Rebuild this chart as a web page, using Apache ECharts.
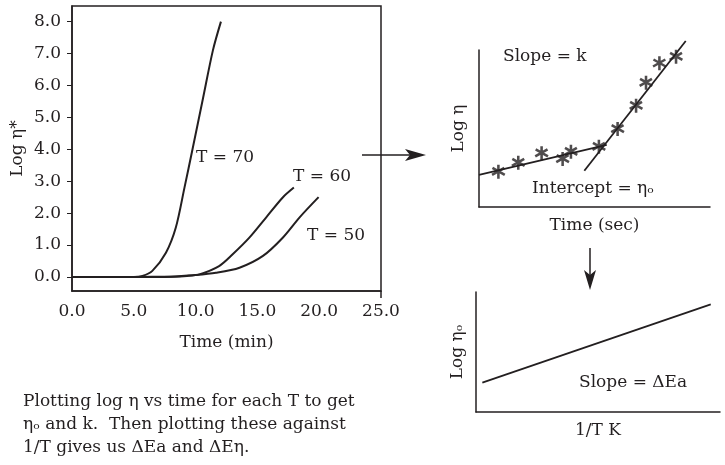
<!DOCTYPE html>
<html>
<head>
<meta charset="utf-8">
<script src="https://cdn.jsdelivr.net/npm/echarts@6/dist/echarts.min.js"></script>
<style>
  html, body { margin: 0; padding: 0; background: #fff; }
  #chart { width: 725px; height: 465px; }
</style>
</head>
<body>
<div id="chart"></div>
<script>
// main panel: log viscosity vs time, one curve per temperature
const tempNames = ['T = 70', 'T = 60', 'T = 50']
const curveT70 = [[0, 0], [3, 0], [5, 0], [5.7, 0.03], [6.5, 0.19], [7.6, 0.76], [8.4, 1.55], [9.1, 2.8], [9.75, 4.0], [10.6, 5.6], [11.4, 7.1], [12.05, 8.0]]
const curveT60 = [[0, 0], [5, 0], [8, 0.01], [9.3, 0.03], [10.3, 0.08], [11.9, 0.34], [13.0, 0.71], [14.35, 1.23], [15.7, 1.86], [17.05, 2.49], [17.95, 2.8]]
const curveT50 = [[0, 0], [5, 0], [8, 0.01], [10, 0.06], [11.65, 0.13], [13.55, 0.29], [15.45, 0.66], [17.05, 1.23], [18.4, 1.86], [19.95, 2.5]]
const yTicks = [0, 1, 2, 3, 4, 5, 6, 7, 8]

// top-right sketch: log eta vs time (arbitrary units 0..10)
const sketchPoints = [[0.84, 2.25], [1.70, 2.82], [2.71, 3.42], [3.62, 3.06], [3.98, 3.52], [5.19, 3.84], [6.00, 4.97], [6.80, 6.45], [7.23, 7.92], [7.81, 9.15], [8.53, 9.57]]
const fitSlow = [[0, 2.04], [5.53, 3.95]]
const fitFast = [[4.56, 2.31], [8.95, 10.57]]

// bottom-right sketch: log eta_o vs 1/T
const arrheniusLine = [[0.26, 2.44], [9.62, 8.97]]

const ink = '#231f20'
const serif = 'DejaVu Serif'
const font = '17px "DejaVu Serif"'
const asterisk = 'path://M4.1 0L5.9 0L5.9 10L4.1 10Z M1.27 1.46L9.93 6.46L9.03 8.02L0.37 3.02Z M0.07 6.46L8.73 1.46L9.63 3.02L0.97 8.02Z'

const chart = echarts.init(document.getElementById('chart'))

const bareAxis = {
  min: 0,
  max: 10,
  axisLine: { show: true, onZero: false, lineStyle: { color: ink, width: 1.5 } },
  axisTick: { show: false },
  axisLabel: { show: false },
  splitLine: { show: false },
  nameLocation: 'middle',
  nameTextStyle: { fontFamily: serif, fontSize: 17, color: ink }
}

chart.setOption({
  animation: false,
  backgroundColor: '#fff',
  grid: [
    { left: 72, top: 6, width: 309, height: 285, show: true, borderColor: ink, borderWidth: 1.5 },
    { left: 479, top: 50, width: 231, height: 157 },
    { left: 476, top: 292, width: 244, height: 120 }
  ],
  xAxis: [
    {
      gridIndex: 0,
      type: 'value',
      min: 0,
      max: 25,
      interval: 5,
      name: 'Time (min)',
      nameLocation: 'middle',
      nameGap: 43,
      nameTextStyle: { fontFamily: serif, fontSize: 17, color: ink },
      axisLine: { onZero: false, lineStyle: { color: ink, width: 1.5 } },
      axisTick: { show: true, customValues: [25], length: 7, lineStyle: { color: ink, width: 1.5 } },
      axisLabel: { fontFamily: serif, fontSize: 17, color: ink, margin: 12, formatter: v => v.toFixed(1) },
      splitLine: { show: false }
    },
    Object.assign({}, bareAxis, { gridIndex: 1, name: 'Time (sec)', nameGap: 10 }),
    Object.assign({}, bareAxis, { gridIndex: 2, name: '1/T K', nameGap: 10 })
  ],
  yAxis: [
    {
      gridIndex: 0,
      type: 'value',
      min: -0.44,
      max: 8.49,
      name: 'Log η*',
      nameLocation: 'middle',
      nameGap: 46,
      nameTextStyle: { fontFamily: serif, fontSize: 17, color: ink },
      axisLine: { onZero: false, lineStyle: { color: ink, width: 1.5 } },
      axisTick: { show: true, customValues: yTicks, length: 5, lineStyle: { color: ink } },
      axisLabel: { fontFamily: serif, fontSize: 17, color: ink, margin: 11, customValues: yTicks, formatter: v => v.toFixed(1) },
      splitLine: { show: false }
    },
    Object.assign({}, bareAxis, { gridIndex: 1, name: 'Log η', nameGap: 12 }),
    Object.assign({}, bareAxis, { gridIndex: 2, name: 'Log ηₒ', nameGap: 10 })
  ],
  series: [
    { name: tempNames[0], type: 'line', xAxisIndex: 0, yAxisIndex: 0, data: curveT70, smooth: 0.3, showSymbol: false, lineStyle: { color: ink, width: 2 } },
    { name: tempNames[1], type: 'line', xAxisIndex: 0, yAxisIndex: 0, data: curveT60, smooth: 0.3, showSymbol: false, lineStyle: { color: ink, width: 2 } },
    { name: tempNames[2], type: 'line', xAxisIndex: 0, yAxisIndex: 0, data: curveT50, smooth: 0.3, showSymbol: false, lineStyle: { color: ink, width: 2 } },
    { type: 'line', xAxisIndex: 1, yAxisIndex: 1, data: fitSlow, showSymbol: false, clip: false, lineStyle: { color: ink, width: 1.8 } },
    { type: 'line', xAxisIndex: 1, yAxisIndex: 1, data: fitFast, showSymbol: false, clip: false, lineStyle: { color: ink, width: 1.8 } },
    { type: 'scatter', xAxisIndex: 1, yAxisIndex: 1, data: sketchPoints, symbol: asterisk, symbolSize: 14, itemStyle: { color: ink } },
    { type: 'line', xAxisIndex: 2, yAxisIndex: 2, data: arrheniusLine, showSymbol: false, lineStyle: { color: ink, width: 1.8 } }
  ],
  graphic: [
    { type: 'text', left: 196, top: 149, style: { text: tempNames[0], font: font, fill: ink } },
    { type: 'text', left: 293, top: 168, style: { text: tempNames[1], font: font, fill: ink } },
    { type: 'text', left: 307, top: 227, style: { text: tempNames[2], font: font, fill: ink } },
    { type: 'text', left: 503, top: 48, style: { text: 'Slope = k', font: font, fill: ink } },
    { type: 'text', left: 532, top: 180, style: { text: 'Intercept = ηₒ', font: font, fill: ink } },
    { type: 'text', left: 579, top: 374, style: { text: 'Slope = ΔEa', font: font, fill: ink } },
    {
      type: 'text', left: 23, top: 390,
      style: {
        text: 'Plotting log η vs time for each T to get\nηₒ and k.  Then plotting these against\n1/T gives us ΔEa and ΔEη.',
        font: font, lineHeight: 23, fill: ink
      }
    },
    // arrow to the top-right sketch
    { type: 'line', shape: { x1: 362, y1: 155, x2: 410, y2: 155 }, style: { stroke: ink, lineWidth: 1.5 } },
    { type: 'polygon', shape: { points: [[405, 149], [426, 155], [405, 161], [410, 155]] }, style: { fill: ink } },
    // arrow down to the bottom-right sketch
    { type: 'line', shape: { x1: 590, y1: 248, x2: 590, y2: 276 }, style: { stroke: ink, lineWidth: 1.5 } },
    { type: 'polygon', shape: { points: [[584, 270], [590, 290], [596, 270], [590, 275]] }, style: { fill: ink } }
  ]
})
</script>
</body>
</html>
